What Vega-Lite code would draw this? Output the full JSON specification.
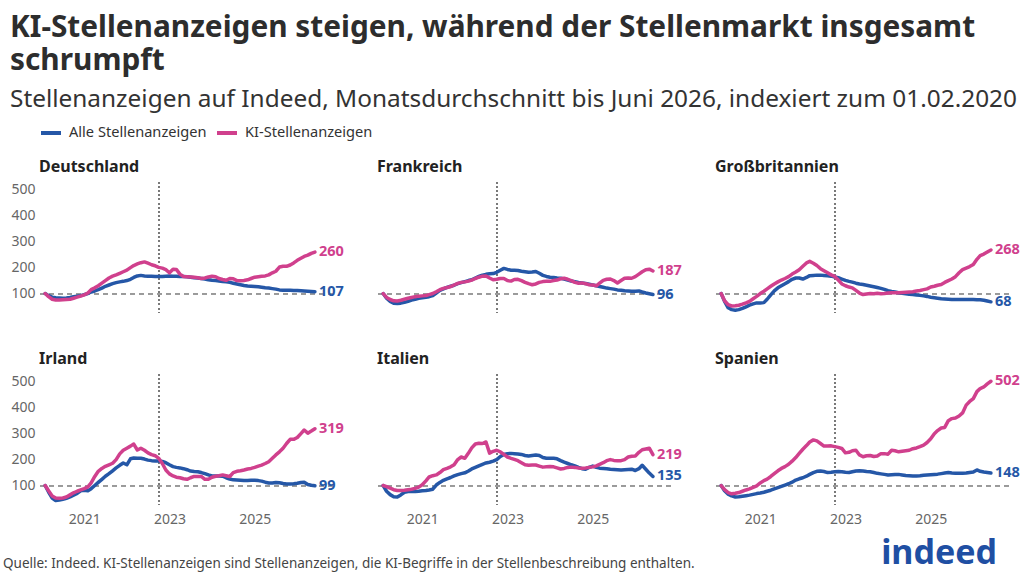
{
"$schema": "https://vega.github.io/schema/vega-lite/v6.json",
"background": "#ffffff",
"padding": {"left": 3, "right": 4, "top": 12, "bottom": 4},
"title": {
  "text": ["KI-Stellenanzeigen steigen, während der Stellenmarkt insgesamt", "schrumpft"],
  "subtitle": "Stellenanzeigen auf Indeed, Monatsdurchschnitt bis Juni 2026, indexiert zum 01.02.2020",
  "anchor": "start", "frame": "bounds", "dx": 7,
  "font": "Noto Sans", "fontSize": 29.8, "fontWeight": "bold", "color": "#2d2d2d", "lineHeight": 33,
  "subtitleFont": "Noto Sans", "subtitleFontSize": 24.4, "subtitleColor": "#333333", "subtitlePadding": 12, "offset": 10
},
"data": {"values": [
{"c":"Deutschland","s":"Alle","d":"2020-02","v":100},{"c":"Deutschland","s":"Alle","d":"2020-03","v":92},{"c":"Deutschland","s":"Alle","d":"2020-04","v":86},{"c":"Deutschland","s":"Alle","d":"2020-05","v":84},{"c":"Deutschland","s":"Alle","d":"2020-06","v":83},{"c":"Deutschland","s":"Alle","d":"2020-07","v":82},{"c":"Deutschland","s":"Alle","d":"2020-08","v":83},{"c":"Deutschland","s":"Alle","d":"2020-09","v":85},{"c":"Deutschland","s":"Alle","d":"2020-10","v":88},{"c":"Deutschland","s":"Alle","d":"2020-11","v":90},{"c":"Deutschland","s":"Alle","d":"2020-12","v":92},
{"c":"Deutschland","s":"Alle","d":"2021-01","v":96},{"c":"Deutschland","s":"Alle","d":"2021-02","v":100},{"c":"Deutschland","s":"Alle","d":"2021-03","v":106},{"c":"Deutschland","s":"Alle","d":"2021-04","v":110},{"c":"Deutschland","s":"Alle","d":"2021-05","v":115},{"c":"Deutschland","s":"Alle","d":"2021-06","v":121},{"c":"Deutschland","s":"Alle","d":"2021-07","v":128},{"c":"Deutschland","s":"Alle","d":"2021-08","v":133},{"c":"Deutschland","s":"Alle","d":"2021-09","v":138},{"c":"Deutschland","s":"Alle","d":"2021-10","v":142},{"c":"Deutschland","s":"Alle","d":"2021-11","v":145},{"c":"Deutschland","s":"Alle","d":"2021-12","v":147},
{"c":"Deutschland","s":"Alle","d":"2022-01","v":150},{"c":"Deutschland","s":"Alle","d":"2022-02","v":155},{"c":"Deutschland","s":"Alle","d":"2022-03","v":162},{"c":"Deutschland","s":"Alle","d":"2022-04","v":168},{"c":"Deutschland","s":"Alle","d":"2022-05","v":170},{"c":"Deutschland","s":"Alle","d":"2022-06","v":168},{"c":"Deutschland","s":"Alle","d":"2022-07","v":167},{"c":"Deutschland","s":"Alle","d":"2022-08","v":167},{"c":"Deutschland","s":"Alle","d":"2022-09","v":166},{"c":"Deutschland","s":"Alle","d":"2022-10","v":166},{"c":"Deutschland","s":"Alle","d":"2022-11","v":166},{"c":"Deutschland","s":"Alle","d":"2022-12","v":167},
{"c":"Deutschland","s":"Alle","d":"2023-01","v":168},{"c":"Deutschland","s":"Alle","d":"2023-02","v":167},{"c":"Deutschland","s":"Alle","d":"2023-03","v":167},{"c":"Deutschland","s":"Alle","d":"2023-04","v":166},{"c":"Deutschland","s":"Alle","d":"2023-05","v":166},{"c":"Deutschland","s":"Alle","d":"2023-06","v":165},{"c":"Deutschland","s":"Alle","d":"2023-07","v":163},{"c":"Deutschland","s":"Alle","d":"2023-08","v":161},{"c":"Deutschland","s":"Alle","d":"2023-09","v":160},{"c":"Deutschland","s":"Alle","d":"2023-10","v":158},{"c":"Deutschland","s":"Alle","d":"2023-11","v":156},{"c":"Deutschland","s":"Alle","d":"2023-12","v":153},
{"c":"Deutschland","s":"Alle","d":"2024-01","v":151},{"c":"Deutschland","s":"Alle","d":"2024-02","v":150},{"c":"Deutschland","s":"Alle","d":"2024-03","v":148},{"c":"Deutschland","s":"Alle","d":"2024-04","v":146},{"c":"Deutschland","s":"Alle","d":"2024-05","v":145},{"c":"Deutschland","s":"Alle","d":"2024-06","v":143},{"c":"Deutschland","s":"Alle","d":"2024-07","v":140},{"c":"Deutschland","s":"Alle","d":"2024-08","v":137},{"c":"Deutschland","s":"Alle","d":"2024-09","v":134},{"c":"Deutschland","s":"Alle","d":"2024-10","v":131},{"c":"Deutschland","s":"Alle","d":"2024-11","v":129},{"c":"Deutschland","s":"Alle","d":"2024-12","v":128},
{"c":"Deutschland","s":"Alle","d":"2025-01","v":127},{"c":"Deutschland","s":"Alle","d":"2025-02","v":126},{"c":"Deutschland","s":"Alle","d":"2025-03","v":124},{"c":"Deutschland","s":"Alle","d":"2025-04","v":122},{"c":"Deutschland","s":"Alle","d":"2025-05","v":121},{"c":"Deutschland","s":"Alle","d":"2025-06","v":119},{"c":"Deutschland","s":"Alle","d":"2025-07","v":117},{"c":"Deutschland","s":"Alle","d":"2025-08","v":114},{"c":"Deutschland","s":"Alle","d":"2025-09","v":113},{"c":"Deutschland","s":"Alle","d":"2025-10","v":113},{"c":"Deutschland","s":"Alle","d":"2025-11","v":113},{"c":"Deutschland","s":"Alle","d":"2025-12","v":112},
{"c":"Deutschland","s":"Alle","d":"2026-01","v":112},{"c":"Deutschland","s":"Alle","d":"2026-02","v":111},{"c":"Deutschland","s":"Alle","d":"2026-03","v":110},{"c":"Deutschland","s":"Alle","d":"2026-04","v":109},{"c":"Deutschland","s":"Alle","d":"2026-05","v":108},{"c":"Deutschland","s":"Alle","d":"2026-06","v":107},
{"c":"Deutschland","s":"KI","d":"2020-02","v":100},{"c":"Deutschland","s":"KI","d":"2020-03","v":88},{"c":"Deutschland","s":"KI","d":"2020-04","v":78},{"c":"Deutschland","s":"KI","d":"2020-05","v":75},{"c":"Deutschland","s":"KI","d":"2020-06","v":75},{"c":"Deutschland","s":"KI","d":"2020-07","v":76},{"c":"Deutschland","s":"KI","d":"2020-08","v":77},{"c":"Deutschland","s":"KI","d":"2020-09","v":78},{"c":"Deutschland","s":"KI","d":"2020-10","v":82},{"c":"Deutschland","s":"KI","d":"2020-11","v":86},{"c":"Deutschland","s":"KI","d":"2020-12","v":90},
{"c":"Deutschland","s":"KI","d":"2021-01","v":95},{"c":"Deutschland","s":"KI","d":"2021-02","v":102},{"c":"Deutschland","s":"KI","d":"2021-03","v":115},{"c":"Deutschland","s":"KI","d":"2021-04","v":122},{"c":"Deutschland","s":"KI","d":"2021-05","v":130},{"c":"Deutschland","s":"KI","d":"2021-06","v":140},{"c":"Deutschland","s":"KI","d":"2021-07","v":150},{"c":"Deutschland","s":"KI","d":"2021-08","v":160},{"c":"Deutschland","s":"KI","d":"2021-09","v":167},{"c":"Deutschland","s":"KI","d":"2021-10","v":172},{"c":"Deutschland","s":"KI","d":"2021-11","v":178},{"c":"Deutschland","s":"KI","d":"2021-12","v":184},
{"c":"Deutschland","s":"KI","d":"2022-01","v":190},{"c":"Deutschland","s":"KI","d":"2022-02","v":200},{"c":"Deutschland","s":"KI","d":"2022-03","v":208},{"c":"Deutschland","s":"KI","d":"2022-04","v":214},{"c":"Deutschland","s":"KI","d":"2022-05","v":219},{"c":"Deutschland","s":"KI","d":"2022-06","v":222},{"c":"Deutschland","s":"KI","d":"2022-07","v":217},{"c":"Deutschland","s":"KI","d":"2022-08","v":211},{"c":"Deutschland","s":"KI","d":"2022-09","v":207},{"c":"Deutschland","s":"KI","d":"2022-10","v":201},{"c":"Deutschland","s":"KI","d":"2022-11","v":198},{"c":"Deutschland","s":"KI","d":"2022-12","v":192},
{"c":"Deutschland","s":"KI","d":"2023-01","v":180},{"c":"Deutschland","s":"KI","d":"2023-02","v":194},{"c":"Deutschland","s":"KI","d":"2023-03","v":193},{"c":"Deutschland","s":"KI","d":"2023-04","v":175},{"c":"Deutschland","s":"KI","d":"2023-05","v":166},{"c":"Deutschland","s":"KI","d":"2023-06","v":165},{"c":"Deutschland","s":"KI","d":"2023-07","v":164},{"c":"Deutschland","s":"KI","d":"2023-08","v":163},{"c":"Deutschland","s":"KI","d":"2023-09","v":161},{"c":"Deutschland","s":"KI","d":"2023-10","v":158},{"c":"Deutschland","s":"KI","d":"2023-11","v":160},{"c":"Deutschland","s":"KI","d":"2023-12","v":164},
{"c":"Deutschland","s":"KI","d":"2024-01","v":167},{"c":"Deutschland","s":"KI","d":"2024-02","v":165},{"c":"Deutschland","s":"KI","d":"2024-03","v":158},{"c":"Deutschland","s":"KI","d":"2024-04","v":154},{"c":"Deutschland","s":"KI","d":"2024-05","v":151},{"c":"Deutschland","s":"KI","d":"2024-06","v":158},{"c":"Deutschland","s":"KI","d":"2024-07","v":157},{"c":"Deutschland","s":"KI","d":"2024-08","v":150},{"c":"Deutschland","s":"KI","d":"2024-09","v":149},{"c":"Deutschland","s":"KI","d":"2024-10","v":150},{"c":"Deutschland","s":"KI","d":"2024-11","v":153},{"c":"Deutschland","s":"KI","d":"2024-12","v":158},
{"c":"Deutschland","s":"KI","d":"2025-01","v":163},{"c":"Deutschland","s":"KI","d":"2025-02","v":165},{"c":"Deutschland","s":"KI","d":"2025-03","v":167},{"c":"Deutschland","s":"KI","d":"2025-04","v":168},{"c":"Deutschland","s":"KI","d":"2025-05","v":172},{"c":"Deutschland","s":"KI","d":"2025-06","v":180},{"c":"Deutschland","s":"KI","d":"2025-07","v":186},{"c":"Deutschland","s":"KI","d":"2025-08","v":202},{"c":"Deutschland","s":"KI","d":"2025-09","v":205},{"c":"Deutschland","s":"KI","d":"2025-10","v":205},{"c":"Deutschland","s":"KI","d":"2025-11","v":210},{"c":"Deutschland","s":"KI","d":"2025-12","v":218},
{"c":"Deutschland","s":"KI","d":"2026-01","v":228},{"c":"Deutschland","s":"KI","d":"2026-02","v":236},{"c":"Deutschland","s":"KI","d":"2026-03","v":243},{"c":"Deutschland","s":"KI","d":"2026-04","v":248},{"c":"Deutschland","s":"KI","d":"2026-05","v":255},{"c":"Deutschland","s":"KI","d":"2026-06","v":260},
{"c":"Frankreich","s":"Alle","d":"2020-02","v":100},{"c":"Frankreich","s":"Alle","d":"2020-03","v":82},{"c":"Frankreich","s":"Alle","d":"2020-04","v":70},{"c":"Frankreich","s":"Alle","d":"2020-05","v":63},{"c":"Frankreich","s":"Alle","d":"2020-06","v":62},{"c":"Frankreich","s":"Alle","d":"2020-07","v":63},{"c":"Frankreich","s":"Alle","d":"2020-08","v":66},{"c":"Frankreich","s":"Alle","d":"2020-09","v":70},{"c":"Frankreich","s":"Alle","d":"2020-10","v":75},{"c":"Frankreich","s":"Alle","d":"2020-11","v":78},{"c":"Frankreich","s":"Alle","d":"2020-12","v":82},
{"c":"Frankreich","s":"Alle","d":"2021-01","v":84},{"c":"Frankreich","s":"Alle","d":"2021-02","v":86},{"c":"Frankreich","s":"Alle","d":"2021-03","v":88},{"c":"Frankreich","s":"Alle","d":"2021-04","v":92},{"c":"Frankreich","s":"Alle","d":"2021-05","v":102},{"c":"Frankreich","s":"Alle","d":"2021-06","v":112},{"c":"Frankreich","s":"Alle","d":"2021-07","v":118},{"c":"Frankreich","s":"Alle","d":"2021-08","v":124},{"c":"Frankreich","s":"Alle","d":"2021-09","v":128},{"c":"Frankreich","s":"Alle","d":"2021-10","v":132},{"c":"Frankreich","s":"Alle","d":"2021-11","v":138},{"c":"Frankreich","s":"Alle","d":"2021-12","v":142},
{"c":"Frankreich","s":"Alle","d":"2022-01","v":146},{"c":"Frankreich","s":"Alle","d":"2022-02","v":150},{"c":"Frankreich","s":"Alle","d":"2022-03","v":153},{"c":"Frankreich","s":"Alle","d":"2022-04","v":160},{"c":"Frankreich","s":"Alle","d":"2022-05","v":166},{"c":"Frankreich","s":"Alle","d":"2022-06","v":171},{"c":"Frankreich","s":"Alle","d":"2022-07","v":174},{"c":"Frankreich","s":"Alle","d":"2022-08","v":176},{"c":"Frankreich","s":"Alle","d":"2022-09","v":177},{"c":"Frankreich","s":"Alle","d":"2022-10","v":182},{"c":"Frankreich","s":"Alle","d":"2022-11","v":190},{"c":"Frankreich","s":"Alle","d":"2022-12","v":197},
{"c":"Frankreich","s":"Alle","d":"2023-01","v":193},{"c":"Frankreich","s":"Alle","d":"2023-02","v":190},{"c":"Frankreich","s":"Alle","d":"2023-03","v":190},{"c":"Frankreich","s":"Alle","d":"2023-04","v":189},{"c":"Frankreich","s":"Alle","d":"2023-05","v":186},{"c":"Frankreich","s":"Alle","d":"2023-06","v":184},{"c":"Frankreich","s":"Alle","d":"2023-07","v":182},{"c":"Frankreich","s":"Alle","d":"2023-08","v":183},{"c":"Frankreich","s":"Alle","d":"2023-09","v":185},{"c":"Frankreich","s":"Alle","d":"2023-10","v":178},{"c":"Frankreich","s":"Alle","d":"2023-11","v":170},{"c":"Frankreich","s":"Alle","d":"2023-12","v":166},
{"c":"Frankreich","s":"Alle","d":"2024-01","v":163},{"c":"Frankreich","s":"Alle","d":"2024-02","v":162},{"c":"Frankreich","s":"Alle","d":"2024-03","v":160},{"c":"Frankreich","s":"Alle","d":"2024-04","v":159},{"c":"Frankreich","s":"Alle","d":"2024-05","v":156},{"c":"Frankreich","s":"Alle","d":"2024-06","v":152},{"c":"Frankreich","s":"Alle","d":"2024-07","v":148},{"c":"Frankreich","s":"Alle","d":"2024-08","v":146},{"c":"Frankreich","s":"Alle","d":"2024-09","v":143},{"c":"Frankreich","s":"Alle","d":"2024-10","v":141},{"c":"Frankreich","s":"Alle","d":"2024-11","v":139},{"c":"Frankreich","s":"Alle","d":"2024-12","v":136},
{"c":"Frankreich","s":"Alle","d":"2025-01","v":133},{"c":"Frankreich","s":"Alle","d":"2025-02","v":130},{"c":"Frankreich","s":"Alle","d":"2025-03","v":127},{"c":"Frankreich","s":"Alle","d":"2025-04","v":124},{"c":"Frankreich","s":"Alle","d":"2025-05","v":121},{"c":"Frankreich","s":"Alle","d":"2025-06","v":119},{"c":"Frankreich","s":"Alle","d":"2025-07","v":117},{"c":"Frankreich","s":"Alle","d":"2025-08","v":114},{"c":"Frankreich","s":"Alle","d":"2025-09","v":113},{"c":"Frankreich","s":"Alle","d":"2025-10","v":111},{"c":"Frankreich","s":"Alle","d":"2025-11","v":110},{"c":"Frankreich","s":"Alle","d":"2025-12","v":109},
{"c":"Frankreich","s":"Alle","d":"2026-01","v":109},{"c":"Frankreich","s":"Alle","d":"2026-02","v":110},{"c":"Frankreich","s":"Alle","d":"2026-03","v":106},{"c":"Frankreich","s":"Alle","d":"2026-04","v":102},{"c":"Frankreich","s":"Alle","d":"2026-05","v":99},{"c":"Frankreich","s":"Alle","d":"2026-06","v":96},
{"c":"Frankreich","s":"KI","d":"2020-02","v":100},{"c":"Frankreich","s":"KI","d":"2020-03","v":85},{"c":"Frankreich","s":"KI","d":"2020-04","v":77},{"c":"Frankreich","s":"KI","d":"2020-05","v":72},{"c":"Frankreich","s":"KI","d":"2020-06","v":71},{"c":"Frankreich","s":"KI","d":"2020-07","v":74},{"c":"Frankreich","s":"KI","d":"2020-08","v":78},{"c":"Frankreich","s":"KI","d":"2020-09","v":82},{"c":"Frankreich","s":"KI","d":"2020-10","v":85},{"c":"Frankreich","s":"KI","d":"2020-11","v":88},{"c":"Frankreich","s":"KI","d":"2020-12","v":90},
{"c":"Frankreich","s":"KI","d":"2021-01","v":91},{"c":"Frankreich","s":"KI","d":"2021-02","v":92},{"c":"Frankreich","s":"KI","d":"2021-03","v":96},{"c":"Frankreich","s":"KI","d":"2021-04","v":100},{"c":"Frankreich","s":"KI","d":"2021-05","v":107},{"c":"Frankreich","s":"KI","d":"2021-06","v":115},{"c":"Frankreich","s":"KI","d":"2021-07","v":120},{"c":"Frankreich","s":"KI","d":"2021-08","v":123},{"c":"Frankreich","s":"KI","d":"2021-09","v":127},{"c":"Frankreich","s":"KI","d":"2021-10","v":133},{"c":"Frankreich","s":"KI","d":"2021-11","v":139},{"c":"Frankreich","s":"KI","d":"2021-12","v":143},
{"c":"Frankreich","s":"KI","d":"2022-01","v":145},{"c":"Frankreich","s":"KI","d":"2022-02","v":148},{"c":"Frankreich","s":"KI","d":"2022-03","v":152},{"c":"Frankreich","s":"KI","d":"2022-04","v":158},{"c":"Frankreich","s":"KI","d":"2022-05","v":163},{"c":"Frankreich","s":"KI","d":"2022-06","v":167},{"c":"Frankreich","s":"KI","d":"2022-07","v":168},{"c":"Frankreich","s":"KI","d":"2022-08","v":160},{"c":"Frankreich","s":"KI","d":"2022-09","v":153},{"c":"Frankreich","s":"KI","d":"2022-10","v":155},{"c":"Frankreich","s":"KI","d":"2022-11","v":158},{"c":"Frankreich","s":"KI","d":"2022-12","v":158},
{"c":"Frankreich","s":"KI","d":"2023-01","v":150},{"c":"Frankreich","s":"KI","d":"2023-02","v":148},{"c":"Frankreich","s":"KI","d":"2023-03","v":154},{"c":"Frankreich","s":"KI","d":"2023-04","v":155},{"c":"Frankreich","s":"KI","d":"2023-05","v":150},{"c":"Frankreich","s":"KI","d":"2023-06","v":143},{"c":"Frankreich","s":"KI","d":"2023-07","v":138},{"c":"Frankreich","s":"KI","d":"2023-08","v":134},{"c":"Frankreich","s":"KI","d":"2023-09","v":137},{"c":"Frankreich","s":"KI","d":"2023-10","v":143},{"c":"Frankreich","s":"KI","d":"2023-11","v":146},{"c":"Frankreich","s":"KI","d":"2023-12","v":147},
{"c":"Frankreich","s":"KI","d":"2024-01","v":147},{"c":"Frankreich","s":"KI","d":"2024-02","v":150},{"c":"Frankreich","s":"KI","d":"2024-03","v":152},{"c":"Frankreich","s":"KI","d":"2024-04","v":157},{"c":"Frankreich","s":"KI","d":"2024-05","v":159},{"c":"Frankreich","s":"KI","d":"2024-06","v":155},{"c":"Frankreich","s":"KI","d":"2024-07","v":150},{"c":"Frankreich","s":"KI","d":"2024-08","v":143},{"c":"Frankreich","s":"KI","d":"2024-09","v":140},{"c":"Frankreich","s":"KI","d":"2024-10","v":141},{"c":"Frankreich","s":"KI","d":"2024-11","v":138},{"c":"Frankreich","s":"KI","d":"2024-12","v":134},
{"c":"Frankreich","s":"KI","d":"2025-01","v":133},{"c":"Frankreich","s":"KI","d":"2025-02","v":130},{"c":"Frankreich","s":"KI","d":"2025-03","v":140},{"c":"Frankreich","s":"KI","d":"2025-04","v":151},{"c":"Frankreich","s":"KI","d":"2025-05","v":155},{"c":"Frankreich","s":"KI","d":"2025-06","v":156},{"c":"Frankreich","s":"KI","d":"2025-07","v":150},{"c":"Frankreich","s":"KI","d":"2025-08","v":141},{"c":"Frankreich","s":"KI","d":"2025-09","v":150},{"c":"Frankreich","s":"KI","d":"2025-10","v":159},{"c":"Frankreich","s":"KI","d":"2025-11","v":160},{"c":"Frankreich","s":"KI","d":"2025-12","v":159},
{"c":"Frankreich","s":"KI","d":"2026-01","v":165},{"c":"Frankreich","s":"KI","d":"2026-02","v":175},{"c":"Frankreich","s":"KI","d":"2026-03","v":184},{"c":"Frankreich","s":"KI","d":"2026-04","v":192},{"c":"Frankreich","s":"KI","d":"2026-05","v":194},{"c":"Frankreich","s":"KI","d":"2026-06","v":187},
{"c":"Großbritannien","s":"Alle","d":"2020-02","v":100},{"c":"Großbritannien","s":"Alle","d":"2020-03","v":70},{"c":"Großbritannien","s":"Alle","d":"2020-04","v":45},{"c":"Großbritannien","s":"Alle","d":"2020-05","v":38},{"c":"Großbritannien","s":"Alle","d":"2020-06","v":36},{"c":"Großbritannien","s":"Alle","d":"2020-07","v":38},{"c":"Großbritannien","s":"Alle","d":"2020-08","v":43},{"c":"Großbritannien","s":"Alle","d":"2020-09","v":49},{"c":"Großbritannien","s":"Alle","d":"2020-10","v":55},{"c":"Großbritannien","s":"Alle","d":"2020-11","v":60},{"c":"Großbritannien","s":"Alle","d":"2020-12","v":64},
{"c":"Großbritannien","s":"Alle","d":"2021-01","v":64},{"c":"Großbritannien","s":"Alle","d":"2021-02","v":65},{"c":"Großbritannien","s":"Alle","d":"2021-03","v":78},{"c":"Großbritannien","s":"Alle","d":"2021-04","v":95},{"c":"Großbritannien","s":"Alle","d":"2021-05","v":110},{"c":"Großbritannien","s":"Alle","d":"2021-06","v":122},{"c":"Großbritannien","s":"Alle","d":"2021-07","v":130},{"c":"Großbritannien","s":"Alle","d":"2021-08","v":138},{"c":"Großbritannien","s":"Alle","d":"2021-09","v":146},{"c":"Großbritannien","s":"Alle","d":"2021-10","v":155},{"c":"Großbritannien","s":"Alle","d":"2021-11","v":160},{"c":"Großbritannien","s":"Alle","d":"2021-12","v":160},
{"c":"Großbritannien","s":"Alle","d":"2022-01","v":156},{"c":"Großbritannien","s":"Alle","d":"2022-02","v":162},{"c":"Großbritannien","s":"Alle","d":"2022-03","v":169},{"c":"Großbritannien","s":"Alle","d":"2022-04","v":170},{"c":"Großbritannien","s":"Alle","d":"2022-05","v":171},{"c":"Großbritannien","s":"Alle","d":"2022-06","v":171},{"c":"Großbritannien","s":"Alle","d":"2022-07","v":170},{"c":"Großbritannien","s":"Alle","d":"2022-08","v":169},{"c":"Großbritannien","s":"Alle","d":"2022-09","v":167},{"c":"Großbritannien","s":"Alle","d":"2022-10","v":164},{"c":"Großbritannien","s":"Alle","d":"2022-11","v":161},{"c":"Großbritannien","s":"Alle","d":"2022-12","v":156},
{"c":"Großbritannien","s":"Alle","d":"2023-01","v":151},{"c":"Großbritannien","s":"Alle","d":"2023-02","v":147},{"c":"Großbritannien","s":"Alle","d":"2023-03","v":144},{"c":"Großbritannien","s":"Alle","d":"2023-04","v":140},{"c":"Großbritannien","s":"Alle","d":"2023-05","v":137},{"c":"Großbritannien","s":"Alle","d":"2023-06","v":135},{"c":"Großbritannien","s":"Alle","d":"2023-07","v":132},{"c":"Großbritannien","s":"Alle","d":"2023-08","v":129},{"c":"Großbritannien","s":"Alle","d":"2023-09","v":126},{"c":"Großbritannien","s":"Alle","d":"2023-10","v":123},{"c":"Großbritannien","s":"Alle","d":"2023-11","v":120},{"c":"Großbritannien","s":"Alle","d":"2023-12","v":116},
{"c":"Großbritannien","s":"Alle","d":"2024-01","v":111},{"c":"Großbritannien","s":"Alle","d":"2024-02","v":108},{"c":"Großbritannien","s":"Alle","d":"2024-03","v":106},{"c":"Großbritannien","s":"Alle","d":"2024-04","v":103},{"c":"Großbritannien","s":"Alle","d":"2024-05","v":101},{"c":"Großbritannien","s":"Alle","d":"2024-06","v":99},{"c":"Großbritannien","s":"Alle","d":"2024-07","v":97},{"c":"Großbritannien","s":"Alle","d":"2024-08","v":96},{"c":"Großbritannien","s":"Alle","d":"2024-09","v":94},{"c":"Großbritannien","s":"Alle","d":"2024-10","v":93},{"c":"Großbritannien","s":"Alle","d":"2024-11","v":91},{"c":"Großbritannien","s":"Alle","d":"2024-12","v":89},
{"c":"Großbritannien","s":"Alle","d":"2025-01","v":86},{"c":"Großbritannien","s":"Alle","d":"2025-02","v":84},{"c":"Großbritannien","s":"Alle","d":"2025-03","v":82},{"c":"Großbritannien","s":"Alle","d":"2025-04","v":80},{"c":"Großbritannien","s":"Alle","d":"2025-05","v":79},{"c":"Großbritannien","s":"Alle","d":"2025-06","v":78},{"c":"Großbritannien","s":"Alle","d":"2025-07","v":77},{"c":"Großbritannien","s":"Alle","d":"2025-08","v":77},{"c":"Großbritannien","s":"Alle","d":"2025-09","v":77},{"c":"Großbritannien","s":"Alle","d":"2025-10","v":77},{"c":"Großbritannien","s":"Alle","d":"2025-11","v":77},{"c":"Großbritannien","s":"Alle","d":"2025-12","v":77},
{"c":"Großbritannien","s":"Alle","d":"2026-01","v":77},{"c":"Großbritannien","s":"Alle","d":"2026-02","v":76},{"c":"Großbritannien","s":"Alle","d":"2026-03","v":76},{"c":"Großbritannien","s":"Alle","d":"2026-04","v":74},{"c":"Großbritannien","s":"Alle","d":"2026-05","v":71},{"c":"Großbritannien","s":"Alle","d":"2026-06","v":68},
{"c":"Großbritannien","s":"KI","d":"2020-02","v":100},{"c":"Großbritannien","s":"KI","d":"2020-03","v":72},{"c":"Großbritannien","s":"KI","d":"2020-04","v":57},{"c":"Großbritannien","s":"KI","d":"2020-05","v":52},{"c":"Großbritannien","s":"KI","d":"2020-06","v":53},{"c":"Großbritannien","s":"KI","d":"2020-07","v":55},{"c":"Großbritannien","s":"KI","d":"2020-08","v":59},{"c":"Großbritannien","s":"KI","d":"2020-09","v":64},{"c":"Großbritannien","s":"KI","d":"2020-10","v":70},{"c":"Großbritannien","s":"KI","d":"2020-11","v":80},{"c":"Großbritannien","s":"KI","d":"2020-12","v":89},
{"c":"Großbritannien","s":"KI","d":"2021-01","v":100},{"c":"Großbritannien","s":"KI","d":"2021-02","v":109},{"c":"Großbritannien","s":"KI","d":"2021-03","v":118},{"c":"Großbritannien","s":"KI","d":"2021-04","v":128},{"c":"Großbritannien","s":"KI","d":"2021-05","v":137},{"c":"Großbritannien","s":"KI","d":"2021-06","v":145},{"c":"Großbritannien","s":"KI","d":"2021-07","v":152},{"c":"Großbritannien","s":"KI","d":"2021-08","v":158},{"c":"Großbritannien","s":"KI","d":"2021-09","v":165},{"c":"Großbritannien","s":"KI","d":"2021-10","v":175},{"c":"Großbritannien","s":"KI","d":"2021-11","v":183},{"c":"Großbritannien","s":"KI","d":"2021-12","v":192},
{"c":"Großbritannien","s":"KI","d":"2022-01","v":205},{"c":"Großbritannien","s":"KI","d":"2022-02","v":218},{"c":"Großbritannien","s":"KI","d":"2022-03","v":224},{"c":"Großbritannien","s":"KI","d":"2022-04","v":217},{"c":"Großbritannien","s":"KI","d":"2022-05","v":208},{"c":"Großbritannien","s":"KI","d":"2022-06","v":196},{"c":"Großbritannien","s":"KI","d":"2022-07","v":188},{"c":"Großbritannien","s":"KI","d":"2022-08","v":180},{"c":"Großbritannien","s":"KI","d":"2022-09","v":172},{"c":"Großbritannien","s":"KI","d":"2022-10","v":166},{"c":"Großbritannien","s":"KI","d":"2022-11","v":152},{"c":"Großbritannien","s":"KI","d":"2022-12","v":137},
{"c":"Großbritannien","s":"KI","d":"2023-01","v":130},{"c":"Großbritannien","s":"KI","d":"2023-02","v":125},{"c":"Großbritannien","s":"KI","d":"2023-03","v":122},{"c":"Großbritannien","s":"KI","d":"2023-04","v":112},{"c":"Großbritannien","s":"KI","d":"2023-05","v":102},{"c":"Großbritannien","s":"KI","d":"2023-06","v":96},{"c":"Großbritannien","s":"KI","d":"2023-07","v":98},{"c":"Großbritannien","s":"KI","d":"2023-08","v":100},{"c":"Großbritannien","s":"KI","d":"2023-09","v":99},{"c":"Großbritannien","s":"KI","d":"2023-10","v":101},{"c":"Großbritannien","s":"KI","d":"2023-11","v":99},{"c":"Großbritannien","s":"KI","d":"2023-12","v":100},
{"c":"Großbritannien","s":"KI","d":"2024-01","v":102},{"c":"Großbritannien","s":"KI","d":"2024-02","v":103},{"c":"Großbritannien","s":"KI","d":"2024-03","v":103},{"c":"Großbritannien","s":"KI","d":"2024-04","v":103},{"c":"Großbritannien","s":"KI","d":"2024-05","v":104},{"c":"Großbritannien","s":"KI","d":"2024-06","v":105},{"c":"Großbritannien","s":"KI","d":"2024-07","v":106},{"c":"Großbritannien","s":"KI","d":"2024-08","v":107},{"c":"Großbritannien","s":"KI","d":"2024-09","v":110},{"c":"Großbritannien","s":"KI","d":"2024-10","v":112},{"c":"Großbritannien","s":"KI","d":"2024-11","v":115},{"c":"Großbritannien","s":"KI","d":"2024-12","v":118},
{"c":"Großbritannien","s":"KI","d":"2025-01","v":125},{"c":"Großbritannien","s":"KI","d":"2025-02","v":128},{"c":"Großbritannien","s":"KI","d":"2025-03","v":132},{"c":"Großbritannien","s":"KI","d":"2025-04","v":135},{"c":"Großbritannien","s":"KI","d":"2025-05","v":143},{"c":"Großbritannien","s":"KI","d":"2025-06","v":150},{"c":"Großbritannien","s":"KI","d":"2025-07","v":156},{"c":"Großbritannien","s":"KI","d":"2025-08","v":165},{"c":"Großbritannien","s":"KI","d":"2025-09","v":180},{"c":"Großbritannien","s":"KI","d":"2025-10","v":192},{"c":"Großbritannien","s":"KI","d":"2025-11","v":198},{"c":"Großbritannien","s":"KI","d":"2025-12","v":204},
{"c":"Großbritannien","s":"KI","d":"2026-01","v":212},{"c":"Großbritannien","s":"KI","d":"2026-02","v":232},{"c":"Großbritannien","s":"KI","d":"2026-03","v":246},{"c":"Großbritannien","s":"KI","d":"2026-04","v":252},{"c":"Großbritannien","s":"KI","d":"2026-05","v":260},{"c":"Großbritannien","s":"KI","d":"2026-06","v":268},
{"c":"Irland","s":"Alle","d":"2020-02","v":100},{"c":"Irland","s":"Alle","d":"2020-03","v":75},{"c":"Irland","s":"Alle","d":"2020-04","v":52},{"c":"Irland","s":"Alle","d":"2020-05","v":42},{"c":"Irland","s":"Alle","d":"2020-06","v":44},{"c":"Irland","s":"Alle","d":"2020-07","v":47},{"c":"Irland","s":"Alle","d":"2020-08","v":51},{"c":"Irland","s":"Alle","d":"2020-09","v":56},{"c":"Irland","s":"Alle","d":"2020-10","v":63},{"c":"Irland","s":"Alle","d":"2020-11","v":70},{"c":"Irland","s":"Alle","d":"2020-12","v":80},
{"c":"Irland","s":"Alle","d":"2021-01","v":82},{"c":"Irland","s":"Alle","d":"2021-02","v":80},{"c":"Irland","s":"Alle","d":"2021-03","v":88},{"c":"Irland","s":"Alle","d":"2021-04","v":100},{"c":"Irland","s":"Alle","d":"2021-05","v":112},{"c":"Irland","s":"Alle","d":"2021-06","v":124},{"c":"Irland","s":"Alle","d":"2021-07","v":136},{"c":"Irland","s":"Alle","d":"2021-08","v":146},{"c":"Irland","s":"Alle","d":"2021-09","v":157},{"c":"Irland","s":"Alle","d":"2021-10","v":168},{"c":"Irland","s":"Alle","d":"2021-11","v":178},{"c":"Irland","s":"Alle","d":"2021-12","v":187},
{"c":"Irland","s":"Alle","d":"2022-01","v":180},{"c":"Irland","s":"Alle","d":"2022-02","v":203},{"c":"Irland","s":"Alle","d":"2022-03","v":206},{"c":"Irland","s":"Alle","d":"2022-04","v":205},{"c":"Irland","s":"Alle","d":"2022-05","v":205},{"c":"Irland","s":"Alle","d":"2022-06","v":202},{"c":"Irland","s":"Alle","d":"2022-07","v":198},{"c":"Irland","s":"Alle","d":"2022-08","v":196},{"c":"Irland","s":"Alle","d":"2022-09","v":195},{"c":"Irland","s":"Alle","d":"2022-10","v":195},{"c":"Irland","s":"Alle","d":"2022-11","v":193},{"c":"Irland","s":"Alle","d":"2022-12","v":188},
{"c":"Irland","s":"Alle","d":"2023-01","v":180},{"c":"Irland","s":"Alle","d":"2023-02","v":173},{"c":"Irland","s":"Alle","d":"2023-03","v":170},{"c":"Irland","s":"Alle","d":"2023-04","v":168},{"c":"Irland","s":"Alle","d":"2023-05","v":165},{"c":"Irland","s":"Alle","d":"2023-06","v":161},{"c":"Irland","s":"Alle","d":"2023-07","v":156},{"c":"Irland","s":"Alle","d":"2023-08","v":154},{"c":"Irland","s":"Alle","d":"2023-09","v":153},{"c":"Irland","s":"Alle","d":"2023-10","v":150},{"c":"Irland","s":"Alle","d":"2023-11","v":146},{"c":"Irland","s":"Alle","d":"2023-12","v":141},
{"c":"Irland","s":"Alle","d":"2024-01","v":137},{"c":"Irland","s":"Alle","d":"2024-02","v":137},{"c":"Irland","s":"Alle","d":"2024-03","v":137},{"c":"Irland","s":"Alle","d":"2024-04","v":136},{"c":"Irland","s":"Alle","d":"2024-05","v":130},{"c":"Irland","s":"Alle","d":"2024-06","v":125},{"c":"Irland","s":"Alle","d":"2024-07","v":122},{"c":"Irland","s":"Alle","d":"2024-08","v":121},{"c":"Irland","s":"Alle","d":"2024-09","v":120},{"c":"Irland","s":"Alle","d":"2024-10","v":119},{"c":"Irland","s":"Alle","d":"2024-11","v":119},{"c":"Irland","s":"Alle","d":"2024-12","v":120},
{"c":"Irland","s":"Alle","d":"2025-01","v":120},{"c":"Irland","s":"Alle","d":"2025-02","v":119},{"c":"Irland","s":"Alle","d":"2025-03","v":117},{"c":"Irland","s":"Alle","d":"2025-04","v":113},{"c":"Irland","s":"Alle","d":"2025-05","v":110},{"c":"Irland","s":"Alle","d":"2025-06","v":110},{"c":"Irland","s":"Alle","d":"2025-07","v":112},{"c":"Irland","s":"Alle","d":"2025-08","v":111},{"c":"Irland","s":"Alle","d":"2025-09","v":108},{"c":"Irland","s":"Alle","d":"2025-10","v":106},{"c":"Irland","s":"Alle","d":"2025-11","v":106},{"c":"Irland","s":"Alle","d":"2025-12","v":107},
{"c":"Irland","s":"Alle","d":"2026-01","v":109},{"c":"Irland","s":"Alle","d":"2026-02","v":112},{"c":"Irland","s":"Alle","d":"2026-03","v":113},{"c":"Irland","s":"Alle","d":"2026-04","v":104},{"c":"Irland","s":"Alle","d":"2026-05","v":101},{"c":"Irland","s":"Alle","d":"2026-06","v":99},
{"c":"Irland","s":"KI","d":"2020-02","v":100},{"c":"Irland","s":"KI","d":"2020-03","v":80},{"c":"Irland","s":"KI","d":"2020-04","v":60},{"c":"Irland","s":"KI","d":"2020-05","v":52},{"c":"Irland","s":"KI","d":"2020-06","v":51},{"c":"Irland","s":"KI","d":"2020-07","v":52},{"c":"Irland","s":"KI","d":"2020-08","v":56},{"c":"Irland","s":"KI","d":"2020-09","v":64},{"c":"Irland","s":"KI","d":"2020-10","v":72},{"c":"Irland","s":"KI","d":"2020-11","v":78},{"c":"Irland","s":"KI","d":"2020-12","v":83},
{"c":"Irland","s":"KI","d":"2021-01","v":88},{"c":"Irland","s":"KI","d":"2021-02","v":95},{"c":"Irland","s":"KI","d":"2021-03","v":110},{"c":"Irland","s":"KI","d":"2021-04","v":135},{"c":"Irland","s":"KI","d":"2021-05","v":155},{"c":"Irland","s":"KI","d":"2021-06","v":166},{"c":"Irland","s":"KI","d":"2021-07","v":174},{"c":"Irland","s":"KI","d":"2021-08","v":180},{"c":"Irland","s":"KI","d":"2021-09","v":186},{"c":"Irland","s":"KI","d":"2021-10","v":200},{"c":"Irland","s":"KI","d":"2021-11","v":222},{"c":"Irland","s":"KI","d":"2021-12","v":236},
{"c":"Irland","s":"KI","d":"2022-01","v":244},{"c":"Irland","s":"KI","d":"2022-02","v":252},{"c":"Irland","s":"KI","d":"2022-03","v":260},{"c":"Irland","s":"KI","d":"2022-04","v":237},{"c":"Irland","s":"KI","d":"2022-05","v":244},{"c":"Irland","s":"KI","d":"2022-06","v":236},{"c":"Irland","s":"KI","d":"2022-07","v":226},{"c":"Irland","s":"KI","d":"2022-08","v":219},{"c":"Irland","s":"KI","d":"2022-09","v":215},{"c":"Irland","s":"KI","d":"2022-10","v":205},{"c":"Irland","s":"KI","d":"2022-11","v":185},{"c":"Irland","s":"KI","d":"2022-12","v":160},
{"c":"Irland","s":"KI","d":"2023-01","v":145},{"c":"Irland","s":"KI","d":"2023-02","v":137},{"c":"Irland","s":"KI","d":"2023-03","v":132},{"c":"Irland","s":"KI","d":"2023-04","v":130},{"c":"Irland","s":"KI","d":"2023-05","v":126},{"c":"Irland","s":"KI","d":"2023-06","v":124},{"c":"Irland","s":"KI","d":"2023-07","v":130},{"c":"Irland","s":"KI","d":"2023-08","v":135},{"c":"Irland","s":"KI","d":"2023-09","v":135},{"c":"Irland","s":"KI","d":"2023-10","v":135},{"c":"Irland","s":"KI","d":"2023-11","v":124},{"c":"Irland","s":"KI","d":"2023-12","v":124},
{"c":"Irland","s":"KI","d":"2024-01","v":132},{"c":"Irland","s":"KI","d":"2024-02","v":136},{"c":"Irland","s":"KI","d":"2024-03","v":138},{"c":"Irland","s":"KI","d":"2024-04","v":141},{"c":"Irland","s":"KI","d":"2024-05","v":138},{"c":"Irland","s":"KI","d":"2024-06","v":135},{"c":"Irland","s":"KI","d":"2024-07","v":150},{"c":"Irland","s":"KI","d":"2024-08","v":155},{"c":"Irland","s":"KI","d":"2024-09","v":157},{"c":"Irland","s":"KI","d":"2024-10","v":160},{"c":"Irland","s":"KI","d":"2024-11","v":164},{"c":"Irland","s":"KI","d":"2024-12","v":166},
{"c":"Irland","s":"KI","d":"2025-01","v":170},{"c":"Irland","s":"KI","d":"2025-02","v":175},{"c":"Irland","s":"KI","d":"2025-03","v":179},{"c":"Irland","s":"KI","d":"2025-04","v":185},{"c":"Irland","s":"KI","d":"2025-05","v":192},{"c":"Irland","s":"KI","d":"2025-06","v":205},{"c":"Irland","s":"KI","d":"2025-07","v":218},{"c":"Irland","s":"KI","d":"2025-08","v":230},{"c":"Irland","s":"KI","d":"2025-09","v":244},{"c":"Irland","s":"KI","d":"2025-10","v":262},{"c":"Irland","s":"KI","d":"2025-11","v":278},{"c":"Irland","s":"KI","d":"2025-12","v":278},
{"c":"Irland","s":"KI","d":"2026-01","v":285},{"c":"Irland","s":"KI","d":"2026-02","v":300},{"c":"Irland","s":"KI","d":"2026-03","v":314},{"c":"Irland","s":"KI","d":"2026-04","v":302},{"c":"Irland","s":"KI","d":"2026-05","v":310},{"c":"Irland","s":"KI","d":"2026-06","v":319},
{"c":"Italien","s":"Alle","d":"2020-02","v":100},{"c":"Italien","s":"Alle","d":"2020-03","v":78},{"c":"Italien","s":"Alle","d":"2020-04","v":65},{"c":"Italien","s":"Alle","d":"2020-05","v":57},{"c":"Italien","s":"Alle","d":"2020-06","v":56},{"c":"Italien","s":"Alle","d":"2020-07","v":64},{"c":"Italien","s":"Alle","d":"2020-08","v":74},{"c":"Italien","s":"Alle","d":"2020-09","v":77},{"c":"Italien","s":"Alle","d":"2020-10","v":77},{"c":"Italien","s":"Alle","d":"2020-11","v":77},{"c":"Italien","s":"Alle","d":"2020-12","v":78},
{"c":"Italien","s":"Alle","d":"2021-01","v":80},{"c":"Italien","s":"Alle","d":"2021-02","v":81},{"c":"Italien","s":"Alle","d":"2021-03","v":83},{"c":"Italien","s":"Alle","d":"2021-04","v":86},{"c":"Italien","s":"Alle","d":"2021-05","v":102},{"c":"Italien","s":"Alle","d":"2021-06","v":112},{"c":"Italien","s":"Alle","d":"2021-07","v":120},{"c":"Italien","s":"Alle","d":"2021-08","v":126},{"c":"Italien","s":"Alle","d":"2021-09","v":131},{"c":"Italien","s":"Alle","d":"2021-10","v":137},{"c":"Italien","s":"Alle","d":"2021-11","v":142},{"c":"Italien","s":"Alle","d":"2021-12","v":146},
{"c":"Italien","s":"Alle","d":"2022-01","v":149},{"c":"Italien","s":"Alle","d":"2022-02","v":156},{"c":"Italien","s":"Alle","d":"2022-03","v":164},{"c":"Italien","s":"Alle","d":"2022-04","v":170},{"c":"Italien","s":"Alle","d":"2022-05","v":176},{"c":"Italien","s":"Alle","d":"2022-06","v":182},{"c":"Italien","s":"Alle","d":"2022-07","v":187},{"c":"Italien","s":"Alle","d":"2022-08","v":190},{"c":"Italien","s":"Alle","d":"2022-09","v":194},{"c":"Italien","s":"Alle","d":"2022-10","v":200},{"c":"Italien","s":"Alle","d":"2022-11","v":212},{"c":"Italien","s":"Alle","d":"2022-12","v":220},
{"c":"Italien","s":"Alle","d":"2023-01","v":223},{"c":"Italien","s":"Alle","d":"2023-02","v":224},{"c":"Italien","s":"Alle","d":"2023-03","v":223},{"c":"Italien","s":"Alle","d":"2023-04","v":222},{"c":"Italien","s":"Alle","d":"2023-05","v":220},{"c":"Italien","s":"Alle","d":"2023-06","v":216},{"c":"Italien","s":"Alle","d":"2023-07","v":214},{"c":"Italien","s":"Alle","d":"2023-08","v":216},{"c":"Italien","s":"Alle","d":"2023-09","v":218},{"c":"Italien","s":"Alle","d":"2023-10","v":216},{"c":"Italien","s":"Alle","d":"2023-11","v":208},{"c":"Italien","s":"Alle","d":"2023-12","v":205},
{"c":"Italien","s":"Alle","d":"2024-01","v":205},{"c":"Italien","s":"Alle","d":"2024-02","v":205},{"c":"Italien","s":"Alle","d":"2024-03","v":203},{"c":"Italien","s":"Alle","d":"2024-04","v":196},{"c":"Italien","s":"Alle","d":"2024-05","v":190},{"c":"Italien","s":"Alle","d":"2024-06","v":185},{"c":"Italien","s":"Alle","d":"2024-07","v":180},{"c":"Italien","s":"Alle","d":"2024-08","v":176},{"c":"Italien","s":"Alle","d":"2024-09","v":170},{"c":"Italien","s":"Alle","d":"2024-10","v":165},{"c":"Italien","s":"Alle","d":"2024-11","v":163},{"c":"Italien","s":"Alle","d":"2024-12","v":170},
{"c":"Italien","s":"Alle","d":"2025-01","v":175},{"c":"Italien","s":"Alle","d":"2025-02","v":170},{"c":"Italien","s":"Alle","d":"2025-03","v":167},{"c":"Italien","s":"Alle","d":"2025-04","v":166},{"c":"Italien","s":"Alle","d":"2025-05","v":165},{"c":"Italien","s":"Alle","d":"2025-06","v":163},{"c":"Italien","s":"Alle","d":"2025-07","v":162},{"c":"Italien","s":"Alle","d":"2025-08","v":161},{"c":"Italien","s":"Alle","d":"2025-09","v":160},{"c":"Italien","s":"Alle","d":"2025-10","v":161},{"c":"Italien","s":"Alle","d":"2025-11","v":162},{"c":"Italien","s":"Alle","d":"2025-12","v":163},
{"c":"Italien","s":"Alle","d":"2026-01","v":158},{"c":"Italien","s":"Alle","d":"2026-02","v":165},{"c":"Italien","s":"Alle","d":"2026-03","v":178},{"c":"Italien","s":"Alle","d":"2026-04","v":163},{"c":"Italien","s":"Alle","d":"2026-05","v":148},{"c":"Italien","s":"Alle","d":"2026-06","v":135},
{"c":"Italien","s":"KI","d":"2020-02","v":100},{"c":"Italien","s":"KI","d":"2020-03","v":96},{"c":"Italien","s":"KI","d":"2020-04","v":90},{"c":"Italien","s":"KI","d":"2020-05","v":84},{"c":"Italien","s":"KI","d":"2020-06","v":81},{"c":"Italien","s":"KI","d":"2020-07","v":81},{"c":"Italien","s":"KI","d":"2020-08","v":82},{"c":"Italien","s":"KI","d":"2020-09","v":84},{"c":"Italien","s":"KI","d":"2020-10","v":86},{"c":"Italien","s":"KI","d":"2020-11","v":89},{"c":"Italien","s":"KI","d":"2020-12","v":94},
{"c":"Italien","s":"KI","d":"2021-01","v":103},{"c":"Italien","s":"KI","d":"2021-02","v":118},{"c":"Italien","s":"KI","d":"2021-03","v":133},{"c":"Italien","s":"KI","d":"2021-04","v":138},{"c":"Italien","s":"KI","d":"2021-05","v":141},{"c":"Italien","s":"KI","d":"2021-06","v":150},{"c":"Italien","s":"KI","d":"2021-07","v":161},{"c":"Italien","s":"KI","d":"2021-08","v":166},{"c":"Italien","s":"KI","d":"2021-09","v":172},{"c":"Italien","s":"KI","d":"2021-10","v":180},{"c":"Italien","s":"KI","d":"2021-11","v":200},{"c":"Italien","s":"KI","d":"2021-12","v":210},
{"c":"Italien","s":"KI","d":"2022-01","v":205},{"c":"Italien","s":"KI","d":"2022-02","v":225},{"c":"Italien","s":"KI","d":"2022-03","v":245},{"c":"Italien","s":"KI","d":"2022-04","v":260},{"c":"Italien","s":"KI","d":"2022-05","v":263},{"c":"Italien","s":"KI","d":"2022-06","v":262},{"c":"Italien","s":"KI","d":"2022-07","v":268},{"c":"Italien","s":"KI","d":"2022-08","v":225},{"c":"Italien","s":"KI","d":"2022-09","v":232},{"c":"Italien","s":"KI","d":"2022-10","v":236},{"c":"Italien","s":"KI","d":"2022-11","v":230},{"c":"Italien","s":"KI","d":"2022-12","v":220},
{"c":"Italien","s":"KI","d":"2023-01","v":210},{"c":"Italien","s":"KI","d":"2023-02","v":205},{"c":"Italien","s":"KI","d":"2023-03","v":201},{"c":"Italien","s":"KI","d":"2023-04","v":196},{"c":"Italien","s":"KI","d":"2023-05","v":188},{"c":"Italien","s":"KI","d":"2023-06","v":180},{"c":"Italien","s":"KI","d":"2023-07","v":178},{"c":"Italien","s":"KI","d":"2023-08","v":179},{"c":"Italien","s":"KI","d":"2023-09","v":179},{"c":"Italien","s":"KI","d":"2023-10","v":175},{"c":"Italien","s":"KI","d":"2023-11","v":171},{"c":"Italien","s":"KI","d":"2023-12","v":172},
{"c":"Italien","s":"KI","d":"2024-01","v":173},{"c":"Italien","s":"KI","d":"2024-02","v":172},{"c":"Italien","s":"KI","d":"2024-03","v":168},{"c":"Italien","s":"KI","d":"2024-04","v":164},{"c":"Italien","s":"KI","d":"2024-05","v":166},{"c":"Italien","s":"KI","d":"2024-06","v":170},{"c":"Italien","s":"KI","d":"2024-07","v":171},{"c":"Italien","s":"KI","d":"2024-08","v":170},{"c":"Italien","s":"KI","d":"2024-09","v":168},{"c":"Italien","s":"KI","d":"2024-10","v":167},{"c":"Italien","s":"KI","d":"2024-11","v":168},{"c":"Italien","s":"KI","d":"2024-12","v":170},
{"c":"Italien","s":"KI","d":"2025-01","v":172},{"c":"Italien","s":"KI","d":"2025-02","v":176},{"c":"Italien","s":"KI","d":"2025-03","v":182},{"c":"Italien","s":"KI","d":"2025-04","v":188},{"c":"Italien","s":"KI","d":"2025-05","v":196},{"c":"Italien","s":"KI","d":"2025-06","v":200},{"c":"Italien","s":"KI","d":"2025-07","v":197},{"c":"Italien","s":"KI","d":"2025-08","v":196},{"c":"Italien","s":"KI","d":"2025-09","v":196},{"c":"Italien","s":"KI","d":"2025-10","v":200},{"c":"Italien","s":"KI","d":"2025-11","v":210},{"c":"Italien","s":"KI","d":"2025-12","v":213},
{"c":"Italien","s":"KI","d":"2026-01","v":214},{"c":"Italien","s":"KI","d":"2026-02","v":228},{"c":"Italien","s":"KI","d":"2026-03","v":238},{"c":"Italien","s":"KI","d":"2026-04","v":241},{"c":"Italien","s":"KI","d":"2026-05","v":244},{"c":"Italien","s":"KI","d":"2026-06","v":219},
{"c":"Spanien","s":"Alle","d":"2020-02","v":100},{"c":"Spanien","s":"Alle","d":"2020-03","v":80},{"c":"Spanien","s":"Alle","d":"2020-04","v":67},{"c":"Spanien","s":"Alle","d":"2020-05","v":60},{"c":"Spanien","s":"Alle","d":"2020-06","v":56},{"c":"Spanien","s":"Alle","d":"2020-07","v":57},{"c":"Spanien","s":"Alle","d":"2020-08","v":59},{"c":"Spanien","s":"Alle","d":"2020-09","v":61},{"c":"Spanien","s":"Alle","d":"2020-10","v":63},{"c":"Spanien","s":"Alle","d":"2020-11","v":66},{"c":"Spanien","s":"Alle","d":"2020-12","v":69},
{"c":"Spanien","s":"Alle","d":"2021-01","v":71},{"c":"Spanien","s":"Alle","d":"2021-02","v":74},{"c":"Spanien","s":"Alle","d":"2021-03","v":78},{"c":"Spanien","s":"Alle","d":"2021-04","v":82},{"c":"Spanien","s":"Alle","d":"2021-05","v":87},{"c":"Spanien","s":"Alle","d":"2021-06","v":92},{"c":"Spanien","s":"Alle","d":"2021-07","v":97},{"c":"Spanien","s":"Alle","d":"2021-08","v":102},{"c":"Spanien","s":"Alle","d":"2021-09","v":107},{"c":"Spanien","s":"Alle","d":"2021-10","v":113},{"c":"Spanien","s":"Alle","d":"2021-11","v":121},{"c":"Spanien","s":"Alle","d":"2021-12","v":126},
{"c":"Spanien","s":"Alle","d":"2022-01","v":130},{"c":"Spanien","s":"Alle","d":"2022-02","v":136},{"c":"Spanien","s":"Alle","d":"2022-03","v":143},{"c":"Spanien","s":"Alle","d":"2022-04","v":150},{"c":"Spanien","s":"Alle","d":"2022-05","v":155},{"c":"Spanien","s":"Alle","d":"2022-06","v":156},{"c":"Spanien","s":"Alle","d":"2022-07","v":154},{"c":"Spanien","s":"Alle","d":"2022-08","v":150},{"c":"Spanien","s":"Alle","d":"2022-09","v":151},{"c":"Spanien","s":"Alle","d":"2022-10","v":153},{"c":"Spanien","s":"Alle","d":"2022-11","v":154},{"c":"Spanien","s":"Alle","d":"2022-12","v":153},
{"c":"Spanien","s":"Alle","d":"2023-01","v":151},{"c":"Spanien","s":"Alle","d":"2023-02","v":150},{"c":"Spanien","s":"Alle","d":"2023-03","v":153},{"c":"Spanien","s":"Alle","d":"2023-04","v":156},{"c":"Spanien","s":"Alle","d":"2023-05","v":157},{"c":"Spanien","s":"Alle","d":"2023-06","v":156},{"c":"Spanien","s":"Alle","d":"2023-07","v":154},{"c":"Spanien","s":"Alle","d":"2023-08","v":153},{"c":"Spanien","s":"Alle","d":"2023-09","v":150},{"c":"Spanien","s":"Alle","d":"2023-10","v":147},{"c":"Spanien","s":"Alle","d":"2023-11","v":145},{"c":"Spanien","s":"Alle","d":"2023-12","v":143},
{"c":"Spanien","s":"Alle","d":"2024-01","v":141},{"c":"Spanien","s":"Alle","d":"2024-02","v":142},{"c":"Spanien","s":"Alle","d":"2024-03","v":143},{"c":"Spanien","s":"Alle","d":"2024-04","v":143},{"c":"Spanien","s":"Alle","d":"2024-05","v":141},{"c":"Spanien","s":"Alle","d":"2024-06","v":139},{"c":"Spanien","s":"Alle","d":"2024-07","v":138},{"c":"Spanien","s":"Alle","d":"2024-08","v":137},{"c":"Spanien","s":"Alle","d":"2024-09","v":137},{"c":"Spanien","s":"Alle","d":"2024-10","v":138},{"c":"Spanien","s":"Alle","d":"2024-11","v":140},{"c":"Spanien","s":"Alle","d":"2024-12","v":141},
{"c":"Spanien","s":"Alle","d":"2025-01","v":142},{"c":"Spanien","s":"Alle","d":"2025-02","v":143},{"c":"Spanien","s":"Alle","d":"2025-03","v":144},{"c":"Spanien","s":"Alle","d":"2025-04","v":146},{"c":"Spanien","s":"Alle","d":"2025-05","v":148},{"c":"Spanien","s":"Alle","d":"2025-06","v":150},{"c":"Spanien","s":"Alle","d":"2025-07","v":148},{"c":"Spanien","s":"Alle","d":"2025-08","v":147},{"c":"Spanien","s":"Alle","d":"2025-09","v":147},{"c":"Spanien","s":"Alle","d":"2025-10","v":147},{"c":"Spanien","s":"Alle","d":"2025-11","v":148},{"c":"Spanien","s":"Alle","d":"2025-12","v":150},
{"c":"Spanien","s":"Alle","d":"2026-01","v":152},{"c":"Spanien","s":"Alle","d":"2026-02","v":160},{"c":"Spanien","s":"Alle","d":"2026-03","v":155},{"c":"Spanien","s":"Alle","d":"2026-04","v":152},{"c":"Spanien","s":"Alle","d":"2026-05","v":150},{"c":"Spanien","s":"Alle","d":"2026-06","v":148},
{"c":"Spanien","s":"KI","d":"2020-02","v":100},{"c":"Spanien","s":"KI","d":"2020-03","v":84},{"c":"Spanien","s":"KI","d":"2020-04","v":73},{"c":"Spanien","s":"KI","d":"2020-05","v":68},{"c":"Spanien","s":"KI","d":"2020-06","v":70},{"c":"Spanien","s":"KI","d":"2020-07","v":73},{"c":"Spanien","s":"KI","d":"2020-08","v":78},{"c":"Spanien","s":"KI","d":"2020-09","v":83},{"c":"Spanien","s":"KI","d":"2020-10","v":87},{"c":"Spanien","s":"KI","d":"2020-11","v":93},{"c":"Spanien","s":"KI","d":"2020-12","v":99},
{"c":"Spanien","s":"KI","d":"2021-01","v":110},{"c":"Spanien","s":"KI","d":"2021-02","v":119},{"c":"Spanien","s":"KI","d":"2021-03","v":125},{"c":"Spanien","s":"KI","d":"2021-04","v":135},{"c":"Spanien","s":"KI","d":"2021-05","v":146},{"c":"Spanien","s":"KI","d":"2021-06","v":157},{"c":"Spanien","s":"KI","d":"2021-07","v":166},{"c":"Spanien","s":"KI","d":"2021-08","v":173},{"c":"Spanien","s":"KI","d":"2021-09","v":182},{"c":"Spanien","s":"KI","d":"2021-10","v":194},{"c":"Spanien","s":"KI","d":"2021-11","v":208},{"c":"Spanien","s":"KI","d":"2021-12","v":224},
{"c":"Spanien","s":"KI","d":"2022-01","v":240},{"c":"Spanien","s":"KI","d":"2022-02","v":254},{"c":"Spanien","s":"KI","d":"2022-03","v":268},{"c":"Spanien","s":"KI","d":"2022-04","v":276},{"c":"Spanien","s":"KI","d":"2022-05","v":272},{"c":"Spanien","s":"KI","d":"2022-06","v":262},{"c":"Spanien","s":"KI","d":"2022-07","v":252},{"c":"Spanien","s":"KI","d":"2022-08","v":252},{"c":"Spanien","s":"KI","d":"2022-09","v":253},{"c":"Spanien","s":"KI","d":"2022-10","v":250},{"c":"Spanien","s":"KI","d":"2022-11","v":247},{"c":"Spanien","s":"KI","d":"2022-12","v":243},
{"c":"Spanien","s":"KI","d":"2023-01","v":226},{"c":"Spanien","s":"KI","d":"2023-02","v":228},{"c":"Spanien","s":"KI","d":"2023-03","v":234},{"c":"Spanien","s":"KI","d":"2023-04","v":236},{"c":"Spanien","s":"KI","d":"2023-05","v":218},{"c":"Spanien","s":"KI","d":"2023-06","v":211},{"c":"Spanien","s":"KI","d":"2023-07","v":215},{"c":"Spanien","s":"KI","d":"2023-08","v":216},{"c":"Spanien","s":"KI","d":"2023-09","v":212},{"c":"Spanien","s":"KI","d":"2023-10","v":214},{"c":"Spanien","s":"KI","d":"2023-11","v":223},{"c":"Spanien","s":"KI","d":"2023-12","v":223},
{"c":"Spanien","s":"KI","d":"2024-01","v":221},{"c":"Spanien","s":"KI","d":"2024-02","v":236},{"c":"Spanien","s":"KI","d":"2024-03","v":234},{"c":"Spanien","s":"KI","d":"2024-04","v":230},{"c":"Spanien","s":"KI","d":"2024-05","v":232},{"c":"Spanien","s":"KI","d":"2024-06","v":234},{"c":"Spanien","s":"KI","d":"2024-07","v":236},{"c":"Spanien","s":"KI","d":"2024-08","v":242},{"c":"Spanien","s":"KI","d":"2024-09","v":245},{"c":"Spanien","s":"KI","d":"2024-10","v":250},{"c":"Spanien","s":"KI","d":"2024-11","v":256},{"c":"Spanien","s":"KI","d":"2024-12","v":266},
{"c":"Spanien","s":"KI","d":"2025-01","v":280},{"c":"Spanien","s":"KI","d":"2025-02","v":300},{"c":"Spanien","s":"KI","d":"2025-03","v":312},{"c":"Spanien","s":"KI","d":"2025-04","v":322},{"c":"Spanien","s":"KI","d":"2025-05","v":324},{"c":"Spanien","s":"KI","d":"2025-06","v":350},{"c":"Spanien","s":"KI","d":"2025-07","v":358},{"c":"Spanien","s":"KI","d":"2025-08","v":360},{"c":"Spanien","s":"KI","d":"2025-09","v":368},{"c":"Spanien","s":"KI","d":"2025-10","v":380},{"c":"Spanien","s":"KI","d":"2025-11","v":410},{"c":"Spanien","s":"KI","d":"2025-12","v":424},
{"c":"Spanien","s":"KI","d":"2026-01","v":435},{"c":"Spanien","s":"KI","d":"2026-02","v":462},{"c":"Spanien","s":"KI","d":"2026-03","v":474},{"c":"Spanien","s":"KI","d":"2026-04","v":480},{"c":"Spanien","s":"KI","d":"2026-05","v":492},{"c":"Spanien","s":"KI","d":"2026-06","v":502}
]},
"vconcat": [
 {
  "facet": {"field": "c", "type": "nominal",
    "sort": ["Deutschland", "Frankreich", "Großbritannien", "Irland", "Italien", "Spanien"],
    "header": {"title": null, "labelFont": "Noto Sans", "labelFontSize": 16, "labelFontWeight": "bold", "labelColor": "#222222", "labelAnchor": "start", "labelAlign": "left", "labelPadding": 6}},
  "columns": 3,
  "spacing": {"row": 37, "column": 32},
  "spec": {
   "width": 294, "height": 131,
   "layer": [
    {"mark": {"type": "rule", "color": "#9a9a9a", "strokeDash": [5, 4], "strokeWidth": 1.2},
     "encoding": {"y": {"datum": 100, "type": "quantitative"}}},
    {"mark": {"type": "rule", "color": "#7a7a7a", "strokeDash": [1.2, 3], "strokeWidth": 1.3},
     "encoding": {"x": {"datum": {"year": 2022, "month": 10, "date": 6, "utc": true}, "type": "temporal"}}},
    {"mark": {"type": "line", "strokeWidth": 3.5, "strokeJoin": "round", "strokeCap": "round"},
     "encoding": {
      "x": {"field": "d", "type": "temporal",
        "scale": {"type": "utc", "domain": [{"year": 2019, "month": 12, "date": 10, "utc": true}, {"year": 2026, "month": 11, "date": 3, "utc": true}]},
        "axis": {"title": null, "values": [{"year": 2021, "month": 1, "date": 1, "utc": true}, {"year": 2023, "month": 1, "date": 1, "utc": true}, {"year": 2025, "month": 1, "date": 1, "utc": true}], "format": "%Y", "grid": false, "labelPadding": 6, "tickCount": 10}},
      "y": {"field": "v", "type": "quantitative",
        "scale": {"domain": [25, 530], "nice": false, "zero": false},
        "axis": {"title": null, "values": [100, 200, 300, 400, 500], "tickCount": 10, "labelPadding": 3, "labelOverlap": false, "minExtent": 33,
          "gridOpacity": {"condition": {"test": "datum.value === 100", "value": 0}, "value": 1}}},
      "color": {"field": "s", "type": "nominal",
        "scale": {"domain": ["Alle", "KI"], "range": ["#2557a7", "#d0408d"]},
        "legend": {"title": null, "orient": "top", "direction": "horizontal", "symbolType": "stroke", "symbolStrokeWidth": 4, "symbolSize": 400, "labelFont": "Noto Sans", "labelFontSize": 14.6, "labelColor": "#333333", "columnPadding": 2, "labelOffset": 6,
          "labelExpr": "datum.label === 'Alle' ? 'Alle Stellenanzeigen' : 'KI-Stellenanzeigen'"}}
     }},
    {"transform": [{"filter": "utcyear(datum.d) === 2026 && utcmonth(datum.d) === 5"}],
     "mark": {"type": "text", "align": "left", "baseline": "middle", "dx": 4, "font": "Noto Sans", "fontSize": 14.5, "fontWeight": "bold"},
     "encoding": {
      "x": {"field": "d", "type": "temporal"},
      "y": {"field": "v", "type": "quantitative"},
      "text": {"field": "v", "type": "quantitative"},
      "color": {"field": "s", "type": "nominal"}
     }}
   ]
  }
 },
 {
  "spacing": 0,
  "hconcat": [
   {"width": 700, "height": 1, "data": {"values": []}, "mark": "point",
    "title": {"text": "Quelle: Indeed. KI-Stellenanzeigen sind Stellenanzeigen, die KI-Begriffe in der Stellenbeschreibung enthalten.", "orient": "bottom", "anchor": "start", "dx": -36, "font": "Noto Sans", "fontSize": 13.5, "fontWeight": "normal", "color": "#444444", "offset": 20}},
   {"width": 258, "height": 1, "data": {"values": []}, "mark": "point",
    "title": {"text": "indeed", "orient": "bottom", "anchor": "end", "font": "Noto Sans", "fontSize": 34, "fontWeight": "bold", "color": "#1f4fa3", "offset": 0}}
  ]
 }
],
"config": {
  "view": {"stroke": null},
  "font": "Noto Sans",
  "axis": {"labelFont": "Noto Sans", "labelFontSize": 14, "labelColor": "#666666", "domain": false, "ticks": false, "gridColor": "#e3e3e3", "gridWidth": 1, "labelOverlap": false},
  "concat": {"spacing": 10}
}
}
